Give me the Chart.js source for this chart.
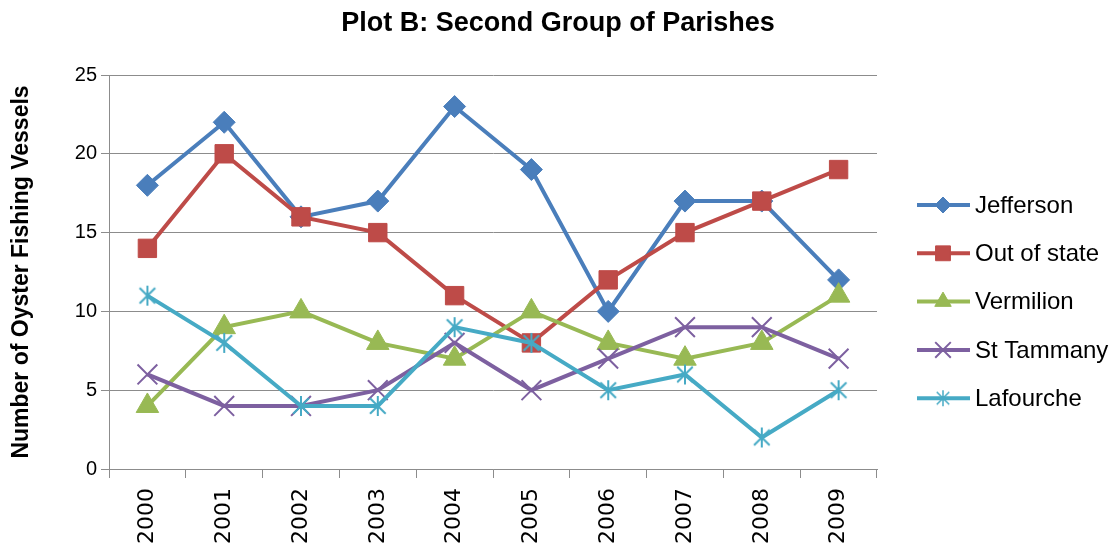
<!DOCTYPE html>
<html><head><meta charset="utf-8">
<script src="https://cdn.jsdelivr.net/npm/chart.js@4/dist/chart.umd.min.js"></script>
<style>html,body{margin:0;padding:0;background:#fff;}#wrap{width:1116px;height:544px;}</style>
</head><body><div id="wrap"><canvas id="c" width="1116" height="544"></canvas></div>
<script>
const chartTitle = 'Plot B: Second Group of Parishes';
const yAxisTitle = 'Number of Oyster Fishing Vessels';
const years = ['2000','2001','2002','2003','2004','2005','2006','2007','2008','2009'];
const seriesNames = ['Jefferson','Out of state','Vermilion','St Tammany','Lafourche'];
const jefferson  = [18,22,16,17,23,19,10,17,17,12];
const outOfState = [14,20,16,15,11,8,12,15,17,19];
const vermilion  = [4,9,10,8,7,10,8,7,8,11];
const stTammany  = [6,4,4,5,8,5,7,9,9,7];
const lafourche  = [11,8,4,4,9,8,5,6,2,5];
const yTicks = [0,5,10,15,20,25];

const colors = ['#4A7EBB','#BE4B48','#98B954','#7D60A0','#46AAC5'];

function makeStar(size, color, lw){
  const c = document.createElement('canvas'); c.width = c.height = size;
  const g = c.getContext('2d'); g.strokeStyle = color; g.lineWidth = lw;
  const m = size/2, r = size/2 - 1, d = r*0.78;
  g.beginPath();
  g.moveTo(m, m-r); g.lineTo(m, m+r);
  g.moveTo(m-d, m-d); g.lineTo(m+d, m+d);
  g.moveTo(m+d, m-d); g.lineTo(m-d, m+d);
  g.stroke();
  return c;
}
const starBig = makeStar(22, colors[4], 2);
const starSmall = makeStar(18, colors[4], 1.5);

const values = [jefferson, outOfState, vermilion, stTammany, lafourche];
const styles = [
  {ps:'rectRot', r:11, bw:1, lr:8},
  {ps:'rect', r:13, bw:1, lr:10.5},
  {ps:'triangle', r:13, bw:1, lr:9.5},
  {ps:'crossRot', r:14, bw:2, lr:11},
  {ps:starBig, r:11, bw:2, lr:9, legendPs:starSmall}
];

const datasets = values.map((v,i)=>({
  label: seriesNames[i],
  data: v,
  borderColor: colors[i],
  backgroundColor: colors[i],
  borderWidth: 4,
  pointStyle: styles[i].ps,
  pointRadius: styles[i].r,
  pointBorderWidth: styles[i].bw,
  pointBorderColor: colors[i],
  pointBackgroundColor: colors[i],
  tension: 0,
  order: 5 - i
}));

const decor = {
  id: 'decor',
  afterDraw(chart){
    const ctx = chart.ctx;
    ctx.save();
    ctx.fillStyle = '#000';
    ctx.font = 'bold 27px "Liberation Sans"';
    ctx.textAlign = 'center'; ctx.textBaseline = 'middle';
    ctx.fillText(chartTitle, 558, 24);
    // legend
    ctx.font = '24px "Liberation Sans"';
    ctx.textAlign = 'left';
    seriesNames.forEach((name,i)=>{
      const y = 205 + i*48.3;
      ctx.strokeStyle = colors[i]; ctx.lineWidth = 4;
      ctx.beginPath(); ctx.moveTo(917,y); ctx.lineTo(970,y); ctx.stroke();
      ctx.fillStyle = colors[i]; ctx.strokeStyle = colors[i];
      ctx.lineWidth = styles[i].bw;
      Chart.helpers.drawPoint(ctx, {pointStyle: styles[i].legendPs || styles[i].ps, radius: styles[i].lr, rotation:0, borderWidth: styles[i].bw}, 943, y);
      ctx.fillStyle = '#000';
      ctx.fillText(name, 975, y+1);
    });
    ctx.restore();
  }
};

new Chart(document.getElementById('c'), {
  type: 'line',
  data: { labels: years, datasets },
  options: {
    responsive: false,
    animation: false,
    devicePixelRatio: 1,
    layout: { padding: { top: 75, right: 239, left: 0, bottom: 0 } },
    plugins: { legend: {display:false}, title:{display:false}, tooltip:{enabled:false} },
    scales: {
      x: {
        type: 'category', offset: true,
        grid: { display:true, drawOnChartArea:false, offset:true, tickLength:9, color:'#8c8c8c', lineWidth:1 },
        border: { display:true, color:'#8c8c8c', width:1 },
        ticks: { minRotation:90, maxRotation:90, autoSkip:false, padding:10, color:'#000', font:{family:'DejaVu Sans', size:22} },
        afterFit: s => { s.height = 75; }
      },
      y: {
        min: 0, max: 25,
        afterBuildTicks: s => { s.ticks = yTicks.map(v=>({value:v})); },
        ticks: { padding:4, color:'#000', font:{family:'Liberation Sans', size:20} },
        grid: { color:'#8c8c8c', tickLength:8, lineWidth:1 },
        border: { display:true, color:'#8c8c8c', width:1 },
        title: { display:true, text:yAxisTitle, color:'#000', font:{family:'Liberation Sans', size:23, weight:'bold'}, padding:{top:8,bottom:0} },
        afterFit: s => { s.width = 109; }
      }
    }
  },
  plugins: [decor]
});
</script></body></html>
